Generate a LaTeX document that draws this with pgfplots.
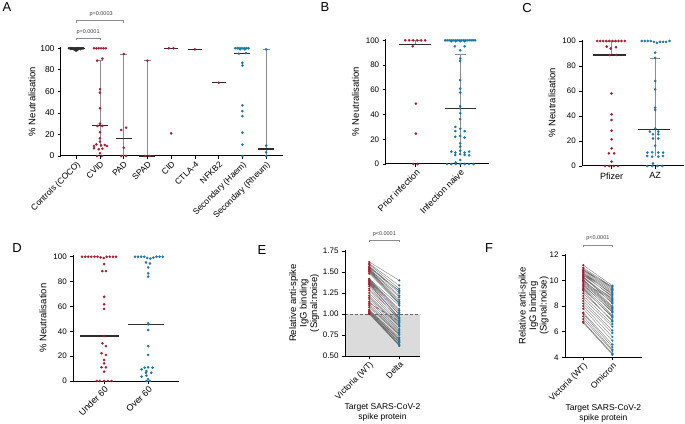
\documentclass[border=0pt]{standalone}
\usepackage{fontspec}
\setmainfont{Liberation Sans}
\usepackage{pgfplots}
\pgfplotsset{compat=1.18}
\definecolor{pred}{RGB}{166,28,48}
\definecolor{pblue}{RGB}{28,118,168}
\definecolor{med}{RGB}{45,45,45}
\definecolor{ebar}{RGB}{140,140,140}
\pgfplotsset{
 panel/.style={scale only axis, clip=false, anchor=south west,
  axis x line*=bottom, axis y line*=left,
  axis line style={line width=1pt, black},
  every tick/.style={black, line width=0.8pt},
  major tick length=3pt, tick align=outside,
  tick label style={font=\fontsize{8}{9}\selectfont},
  label style={font=\fontsize{9.5}{11}\selectfont},
  /pgf/number format/assume math mode=true},
 dots/.style={only marks, mark=*, mark size=1.1pt},
 medl/.style={med, line width=1.1pt},
 errl/.style={ebar, line width=0.8pt},
 pairl/.style={black!55, line width=0.35pt, unbounded coords=jump},
}
\begin{document}
\begin{tikzpicture}
\path[use as bounding box] (0pt,0pt) rectangle (685pt,423pt);
\node[font=\fontsize{13}{13}\selectfont] at (7pt,416pt) {A};
\node[font=\fontsize{13}{13}\selectfont] at (325pt,416pt) {B};
\node[font=\fontsize{13}{13}\selectfont] at (527pt,415pt) {C};
\node[font=\fontsize{13}{13}\selectfont] at (17pt,175pt) {D};
\node[font=\fontsize{13}{13}\selectfont] at (262pt,173pt) {E};
\node[font=\fontsize{13}{13}\selectfont] at (489pt,175pt) {F};

% ---------------- A
\begin{axis}[panel, at={(61pt,267pt)}, width=222pt, height=108.8pt,
 xmin=-0.64, xmax=8.71, ymin=0, ymax=101, ytick={0,20,40,60,80,100},
 xtick={0,1,2,3,4,5,6,7,8},
 xticklabels={Controls (COCO),CVID,PAD,SPAD,CID,CTLA-4,NFKB2,Secondary (Haem),Secondary (Rheum)},
 tick label style={font=\fontsize{8.5}{9}\selectfont},
 xticklabel style={rotate=45, anchor=north east, inner sep=1pt},
 ylabel={\% Neutralisation}, ylabel style={yshift=-2pt}]
\addplot[errl] coordinates {(1,8)(1,88.5)};
\addplot[errl] coordinates {(0.85,88.5)(1.15,88.5)};
\addplot[errl] coordinates {(2,0)(2,94.7)};
\addplot[errl] coordinates {(1.85,94.7)(2.15,94.7)};
\addplot[errl] coordinates {(3,0)(3,88.5)};
\addplot[errl] coordinates {(2.85,88.5)(3.15,88.5)};
\addplot[errl] coordinates {(8,0)(8,99)};
\addplot[errl] coordinates {(7.85,99)(8.15,99)};
\addplot[dots, color=med] coordinates {(-0.3,100)(-0.25,100)(-0.2,100)(-0.15,100)(-0.1,100)(-0.05,100)(0,100)(0.05,100)(0.1,100)(0.15,100)(0.2,100)(0.25,100)(0.3,100)(-0.22,99.3)(-0.12,99.3)(-0.02,99.3)(0.08,99.3)(0.18,99.3)(-0.05,98.5)(0.05,98.5)(0,97.8)};
\addplot[dots, color=pred] coordinates {(0.75,100)(0.85,100)(0.95,100)(1.05,100)(1.15,100)(1.25,100)(0.88,88.5)(1.1,90.4)(1,62)(1,58.8)(1,44.3)(1,30)(0.9,27.9)(1.1,27.9)(1,22)(1,16.4)(1,13.3)(0.85,10.8)(1.2,10.2)(0.75,9.3)(1.05,9.8)(1.3,9.3)(0.75,7.1)(0.95,6.2)(1.1,6.8)(1,2.5)(0.88,0)(1.08,0)
 (2,94.7)(1.9,24.1)(2.1,26.3)(2,7.7)(1.9,0)(2.1,0)
 (3,88.5)(2.9,0)(3.1,0)
 (3.9,100)(4.1,100)(4,21)
 (5,99)
 (6,68)};
\addplot[dots, color=pblue] coordinates {(6.7,100)(6.78,100)(6.86,100)(6.94,100)(7.02,100)(7.1,100)(7.18,100)(7.26,100)(6.9,99)(7.1,99)(6.85,95)(7.15,95.5)(7,86.5)(7,84)(7,47)(7,41.7)(7,37)(7,21.6)(7,10.5)(7,0)
 (8,99)(8,9.6)(8,3.3)(8,0)};
\addplot[medl] coordinates {(-0.35,100)(0.35,100)};
\addplot[medl] coordinates {(0.66,27.9)(1.34,27.9)};
\addplot[medl] coordinates {(1.66,16)(2.34,16)};
\addplot[medl] coordinates {(2.66,0)(3.34,0)};
\addplot[medl] coordinates {(3.7,100)(4.3,100)};
\addplot[medl] coordinates {(4.7,99)(5.3,99)};
\addplot[medl] coordinates {(5.7,68)(6.3,68)};
\addplot[medl] coordinates {(6.66,95.4)(7.34,95.4)};
\addplot[medl] coordinates {(7.66,6.5)(8.34,6.5)};
\draw[ebar, line width=0.6pt] (axis cs:0,107.5) -- (axis cs:0,109.3) -- (axis cs:1,109.3) -- (axis cs:1,107.5);
\node[font=\fontsize{5.5}{6}\selectfont, text=black!75] at (axis cs:0.5,115.2) {p=0.0001};
\draw[ebar, line width=0.6pt] (axis cs:0,123.8) -- (axis cs:0,125.6) -- (axis cs:2,125.6) -- (axis cs:2,123.8);
\node[font=\fontsize{5.5}{6}\selectfont, text=black!75] at (axis cs:1.05,131.5) {p=0.0003};
\end{axis}

% ---------------- B
\begin{axis}[panel, at={(385.7pt,259pt)}, width=103.3pt, height=124.9pt,
 xmin=-0.68, xmax=1.65, ymin=0, ymax=101, ytick={0,20,40,60,80,100},
 xtick={0,1}, xticklabels={Prior infection,Infection naive},
 xticklabel style={rotate=45, anchor=north east, inner sep=1pt, font=\fontsize{9}{10}\selectfont},
 ylabel={\% Neutralisation}]
\addplot[errl] coordinates {(0,96.6)(0,100)};
\addplot[errl] coordinates {(-0.1,100)(0.1,100)};
\addplot[errl] coordinates {(1,9)(1,88.8)};
\addplot[errl] coordinates {(0.88,88.8)(1.12,88.8)};
\addplot[dots, color=pred] coordinates {(-0.24,100)(-0.15,100)(-0.06,100)(0.03,100)(0.12,100)(0.21,100)(-0.07,95.2)(0,48.8)(0,24.5)(-0.06,0)(0.04,0)};
\addplot[dots, color=pblue] coordinates {(0.66,100)(0.705,100)(0.75,100)(0.795,100)(0.84,100)(0.885,100)(0.93,100)(0.975,100)(1.02,100)(1.065,100)(1.11,100)(1.155,100)(1.2,100)(1.245,100)(1.29,100)(1.335,100)(0.8,99.3)(0.9,99.3)(1.0,99.3)(1.1,99.3)
 (0.88,95.2)(1.1,95.2)(1.0,92)(1.0,85.3)(1.0,83.4)(1,67.8)(1,61)(1,57.8)(1,46.8)(1,45)(1,41)(1,36.3)(0.89,30)(1,28.5)(1.1,26.6)(0.89,26.6)(0.89,22)(1,22.6)(1.1,21.3)(1,16.7)(1,14)(0.8,10)(0.89,9.2)(1,10.8)(1.1,9.2)(1.2,10)(0.89,7.3)(1,8)(1.1,7.3)(1.2,7)(1,3.2)(0.9,1.3)
 (0.7,0)(0.8,0)(0.9,0)(1.0,0)(1.1,0)(1.2,0)(1.3,0)};
\addplot[medl] coordinates {(-0.37,96.6)(0.35,96.6)};
\addplot[medl] coordinates {(0.65,44.7)(1.35,44.7)};
\end{axis}

% ---------------- C
\begin{axis}[panel, at={(582.3pt,257pt)}, width=101.7pt, height=126.25pt,
 xmin=-0.67, xmax=1.66, ymin=0, ymax=101, ytick={0,20,40,60,80,100},
 xtick={0,1}, xticklabels={Pfizer,AZ},
 xticklabel style={font=\fontsize{9}{10}\selectfont},
 ylabel={\% Neutralisation}]
\addplot[errl] coordinates {(0,88.8)(0,100)};
\addplot[errl] coordinates {(-0.12,100)(0.12,100)};
\addplot[errl] coordinates {(1,8)(1,86.1)};
\addplot[errl] coordinates {(0.88,86.1)(1.12,86.1)};
\addplot[dots, color=pred] coordinates {(-0.33,100)(-0.26,100)(-0.19,100)(-0.12,100)(-0.05,100)(0.02,100)(0.09,100)(0.16,100)(0.23,100)(0.3,100)
 (-0.11,95.5)(-0.02,94)(0.1,95)(-0.04,88.8)(0.11,88.8)(0,58)(0,41.3)(0,36.8)(0,28.3)(0,21.3)(0,14.1)(-0.06,10.1)(0.06,10.1)(0,3.5)(-0.15,0)(-0.05,0)(0.05,0)(0.15,0)};
\addplot[dots, color=pblue] coordinates {(0.69,100)(0.76,100)(0.83,100)(0.9,100)(0.97,99.3)(1.04,98.5)(1.11,99.3)(1.18,99.3)(1.25,99.3)(1.33,100)
 (1,90.7)(1,86.5)(1,68)(1,61.3)(1,46.7)(1,44.8)(1,30)(0.88,27.5)(1.07,27.5)(0.95,25.4)(1.07,25.4)(0.95,22)(1.07,22)(1,16.3)(0.82,10.7)(0.93,11)(1.07,10.7)(1.18,10.7)(0.82,8)(0.93,7.5)(1.07,7.5)(1.18,8)(0.95,2)(0.82,0)(0.93,0)(1.05,0)(1.16,0)};
\addplot[medl] coordinates {(-0.42,88.8)(0.34,88.8)};
\addplot[medl] coordinates {(0.61,29.3)(1.34,29.3)};
\end{axis}

% ---------------- D
\begin{axis}[panel, at={(73.3pt,42pt)}, width=105.7pt, height=125.5pt,
 xmin=-0.7, xmax=1.7, ymin=0, ymax=101, ytick={0,20,40,60,80,100},
 xtick={0,1}, xticklabels={Under 60,Over 60},
 xticklabel style={rotate=45, anchor=north east, inner sep=1pt, font=\fontsize{9}{10}\selectfont},
 ylabel={\% Neutralisation}]
\addplot[dots, color=pred] coordinates {(-0.5,100)(-0.43,100)(-0.36,100)(-0.29,100)(-0.22,100)(-0.15,100)(-0.08,99.5)(-0.01,99)(0.06,100)(0.13,100)(0.2,100)(0.27,100)
 (0,94)(-0.04,88.5)(0.04,88.5)(0,67.8)(0,61.7)(0,58)(0,36.2)(-0.04,30.3)(0.04,28)(-0.06,22.3)(0.04,21)(0,16.9)(0,14.2)(-0.06,11)(0.04,11)(0,7.5)(-0.17,0)(-0.1,0)(0,0)(0.09,0)(0.17,0)};
\addplot[dots, color=pblue] coordinates {(0.7,100)(0.77,100)(0.84,100)(0.91,100)(0.98,99)(1.05,98.5)(1.12,99.3)(1.19,100)(1.26,100)(1.33,100)
 (0.95,95.4)(1.04,94.6)(1,91.4)(1,86.6)(1,84)(1,46.4)(1,45.6)(1,41)(1,28)(1,21)(0.92,10.7)(1,11)(1.1,10.7)(0.85,9.4)(0.96,8)(0.95,6.7)(1.07,6.7)(0.96,4.3)(0.85,3.5)(1,1.5)(0.96,0)(1.04,0)};
\addplot[medl] coordinates {(-0.55,36.2)(0.34,36.2)};
\addplot[medl] coordinates {(0.55,45.6)(1.36,45.6)};
\end{axis}

% ---------------- E
\begin{axis}[panel, axis on top, at={(345pt,67pt)}, width=75pt, height=105.8pt,
 xmin=-0.81, xmax=1.69, ymin=0.5, ymax=1.76, ytick={0.5,0.75,1,1.25,1.5,1.75},
 yticklabels={0.50,0.75,1.00,1.25,1.50,1.75},
 xtick={0,1}, xticklabels={Victoria (WT),Delta},
 xticklabel style={rotate=45, anchor=north east, inner sep=1pt, font=\fontsize{8.5}{10}\selectfont},
 ylabel={Relative anti-spike\\IgG binding\\(Signal:noise)},
 ylabel style={align=center, font=\fontsize{9.5}{10.5}\selectfont, yshift=-3pt},
 xlabel={Target SARS-CoV-2\\spike protein},
 xlabel style={align=center, font=\fontsize{8.5}{9.5}\selectfont, yshift=2.5pt}]
\fill[black!14] (axis cs:-0.81,0.5) rectangle (axis cs:1.69,1.0);
\draw[black!60, densely dashed, line width=0.6pt] (axis cs:-0.81,1.0) -- (axis cs:1.69,1.0);
\addplot[pairl] coordinates {(0,1.62)(1,1.40)(0,nan)(0,1.60)(1,1.34)(0,nan)(0,1.59)(1,1.30)(0,nan)(0,1.57)(1,1.27)(0,nan)(0,1.56)(1,1.25)(0,nan)(0,1.55)(1,1.28)(0,nan)(0,1.54)(1,1.22)(0,nan)(0,1.53)(1,1.20)(0,nan)(0,1.52)(1,1.17)(0,nan)(0,1.51)(1,1.15)(0,nan)(0,1.50)(1,1.13)(0,nan)(0,1.48)(1,1.12)(0,nan)(0,1.42)(1,1.10)(0,nan)(0,1.41)(1,1.06)(0,nan)(0,1.40)(1,1.04)(0,nan)(0,1.39)(1,1.02)(0,nan)(0,1.38)(1,0.99)(0,nan)(0,1.37)(1,1.00)(0,nan)(0,1.36)(1,0.96)(0,nan)(0,1.35)(1,0.95)(0,nan)(0,1.33)(1,0.92)(0,nan)(0,1.30)(1,0.94)(0,nan)(0,1.28)(1,0.90)(0,nan)(0,1.25)(1,0.88)(0,nan)(0,1.22)(1,0.86)(0,nan)(0,1.20)(1,0.85)(0,nan)(0,1.18)(1,0.82)(0,nan)(0,1.15)(1,0.80)(0,nan)(0,1.12)(1,0.78)(0,nan)(0,1.10)(1,0.76)(0,nan)(0,1.08)(1,0.75)(0,nan)(0,1.05)(1,0.72)(0,nan)(0,1.04)(1,0.70)(0,nan)(0,1.03)(1,0.69)(0,nan)(0,1.02)(1,0.67)(0,nan)(0,1.01)(1,0.66)(0,nan)(0,1.01)(1,0.64)(0,nan)(0,1.00)(1,0.63)(0,nan)(0,1.00)(1,0.62)(0,nan)(0,1.13)(1,0.91)};
\addplot[dots, mark size=0.9pt, color=pred] coordinates {(0,1.62)(0,1.60)(0,1.59)(0,1.57)(0,1.56)(0,1.55)(0,1.54)(0,1.53)(0,1.52)(0,1.51)(0,1.50)(0,1.48)(0,1.42)(0,1.41)(0,1.40)(0,1.39)(0,1.38)(0,1.37)(0,1.36)(0,1.35)(0,1.33)(0,1.30)(0,1.28)(0,1.25)(0,1.22)(0,1.20)(0,1.18)(0,1.15)(0,1.12)(0,1.10)(0,1.08)(0,1.05)(0,1.04)(0,1.03)(0,1.02)(0,1.01)(0,1.01)(0,1.00)(0,1.00)(0,1.13)};
\addplot[dots, mark size=0.9pt, color=pblue] coordinates {(1,1.40)(1,1.34)(1,1.30)(1,1.27)(1,1.25)(1,1.28)(1,1.22)(1,1.20)(1,1.17)(1,1.15)(1,1.13)(1,1.12)(1,1.10)(1,1.06)(1,1.04)(1,1.02)(1,0.99)(1,1.00)(1,0.96)(1,0.95)(1,0.92)(1,0.94)(1,0.90)(1,0.88)(1,0.86)(1,0.85)(1,0.82)(1,0.80)(1,0.78)(1,0.76)(1,0.75)(1,0.72)(1,0.70)(1,0.69)(1,0.67)(1,0.66)(1,0.64)(1,0.63)(1,0.62)(1,0.91)};
\draw[ebar, line width=0.6pt] (axis cs:0,1.86) -- (axis cs:0,1.881) -- (axis cs:1,1.881) -- (axis cs:1,1.86);
\node[font=\fontsize{5.5}{6}\selectfont, text=black!75] at (axis cs:0.5,1.946) {p<0.0001};
\end{axis}

% ---------------- F
\begin{axis}[panel, at={(565pt,65.7pt)}, width=76.7pt, height=103pt,
 xmin=-0.63, xmax=2.01, ymin=4, ymax=12.05, ytick={4,6,8,10,12},
 xtick={0,1}, xticklabels={Victoria (WT),Omicron},
 xticklabel style={rotate=45, anchor=north east, inner sep=1pt, font=\fontsize{8.5}{10}\selectfont},
 ylabel={Relative anti-spike\\IgG binding\\(Signal:noise)},
 ylabel style={align=center, font=\fontsize{9.5}{10.5}\selectfont, yshift=-6pt},
 xlabel={Target SARS-CoV-2\\spike protein},
 xlabel style={align=center, font=\fontsize{8.5}{9.5}\selectfont, yshift=2.5pt}]
\addplot[pairl] coordinates {(0,11.2)(1,9.6)(0,nan)(0,11.0)(1,9.5)(0,nan)(0,10.9)(1,9.4)(0,nan)(0,10.8)(1,9.3)(0,nan)(0,10.8)(1,9.5)(0,nan)(0,10.7)(1,9.2)(0,nan)(0,10.6)(1,9.1)(0,nan)(0,10.6)(1,8.9)(0,nan)(0,10.5)(1,9.0)(0,nan)(0,10.5)(1,8.7)(0,nan)(0,10.4)(1,8.8)(0,nan)(0,10.3)(1,8.5)(0,nan)(0,10.3)(1,8.2)(0,nan)(0,10.2)(1,8.4)(0,nan)(0,10.2)(1,8.6)(0,nan)(0,10.1)(1,8.0)(0,nan)(0,10.0)(1,7.9)(0,nan)(0,10.0)(1,8.3)(0,nan)(0,9.9)(1,7.8)(0,nan)(0,9.8)(1,7.7)(0,nan)(0,9.7)(1,7.5)(0,nan)(0,9.6)(1,7.6)(0,nan)(0,9.5)(1,7.3)(0,nan)(0,9.4)(1,7.1)(0,nan)(0,9.3)(1,7.2)(0,nan)(0,9.2)(1,6.8)(0,nan)(0,9.0)(1,6.9)(0,nan)(0,8.8)(1,6.6)(0,nan)(0,8.6)(1,6.4)(0,nan)(0,8.4)(1,6.1)(0,nan)(0,8.2)(1,5.9)(0,nan)(0,8.0)(1,5.6)(0,nan)(0,7.8)(1,5.3)(0,nan)(0,7.5)(1,5.0)(0,nan)(0,7.4)(1,4.8)(0,nan)(0,7.2)(1,4.6)(0,nan)(0,7.0)(1,4.5)(0,nan)(0,6.8)(1,4.3)(0,nan)(0,6.7)(1,4.2)};
\addplot[dots, mark size=0.9pt, color=pred] coordinates {(0,11.2)(0,11.0)(0,10.9)(0,10.8)(0,10.8)(0,10.7)(0,10.6)(0,10.6)(0,10.5)(0,10.5)(0,10.4)(0,10.3)(0,10.3)(0,10.2)(0,10.2)(0,10.1)(0,10.0)(0,10.0)(0,9.9)(0,9.8)(0,9.7)(0,9.6)(0,9.5)(0,9.4)(0,9.3)(0,9.2)(0,9.0)(0,8.8)(0,8.6)(0,8.4)(0,8.2)(0,8.0)(0,7.8)(0,7.5)(0,7.4)(0,7.2)(0,7.0)(0,6.8)(0,6.7)};
\addplot[dots, mark size=0.9pt, color=pblue] coordinates {(1,9.6)(1,9.5)(1,9.4)(1,9.3)(1,9.5)(1,9.2)(1,9.1)(1,8.9)(1,9.0)(1,8.7)(1,8.8)(1,8.5)(1,8.2)(1,8.4)(1,8.6)(1,8.0)(1,7.9)(1,8.3)(1,7.8)(1,7.7)(1,7.5)(1,7.6)(1,7.3)(1,7.1)(1,7.2)(1,6.8)(1,6.9)(1,6.6)(1,6.4)(1,6.1)(1,5.9)(1,5.6)(1,5.3)(1,5.0)(1,4.8)(1,4.6)(1,4.5)(1,4.3)(1,4.2)};
\draw[ebar, line width=0.6pt] (axis cs:0,12.62) -- (axis cs:0,12.78) -- (axis cs:1,12.78) -- (axis cs:1,12.62);
\node[font=\fontsize{5.5}{6}\selectfont, text=black!75] at (axis cs:0.5,13.3) {p<0.0001};
\end{axis}
\end{tikzpicture}
\end{document}
